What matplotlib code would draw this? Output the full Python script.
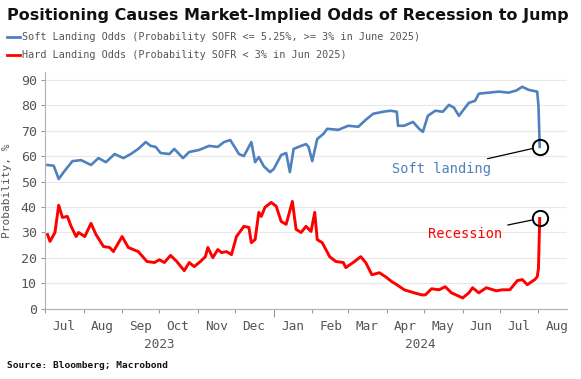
import numpy as np
import pandas as pd
import matplotlib
matplotlib.use("Agg")
import matplotlib.pyplot as plt
import matplotlib.dates as mdates
import matplotlib.transforms as mtransforms
from matplotlib.lines import Line2D

# --- data (probability, %) ---
soft_dates = ["2023-07-03", "2023-07-08", "2023-07-12", "2023-07-16", "2023-07-23", "2023-07-30",
              "2023-08-07", "2023-08-13", "2023-08-19", "2023-08-26", "2023-09-02",
              "2023-09-08", "2023-09-14", "2023-09-20", "2023-09-24", "2023-09-28",
              "2023-10-02", "2023-10-09", "2023-10-13", "2023-10-20", "2023-10-25",
              "2023-11-02", "2023-11-10", "2023-11-17", "2023-11-22", "2023-11-27",
              "2023-11-30", "2023-12-04", "2023-12-08", "2023-12-14", "2023-12-17",
              "2023-12-20", "2023-12-24", "2023-12-29", "2024-01-01", "2024-01-07",
              "2024-01-11", "2024-01-14", "2024-01-17", "2024-01-23", "2024-01-27",
              "2024-01-29", "2024-02-01", "2024-02-05", "2024-02-10", "2024-02-13",
              "2024-02-22", "2024-03-01", "2024-03-09", "2024-03-15", "2024-03-21",
              "2024-03-29", "2024-04-04", "2024-04-09", "2024-04-10", "2024-04-15",
              "2024-04-22", "2024-04-27", "2024-04-30", "2024-05-04", "2024-05-10",
              "2024-05-16", "2024-05-21", "2024-05-25", "2024-05-29", "2024-06-06",
              "2024-06-11", "2024-06-14", "2024-06-22", "2024-06-30", "2024-07-08",
              "2024-07-14", "2024-07-19", "2024-07-24", "2024-07-31", "2024-08-01",
              "2024-08-02"]
soft_vals = [56.5, 56.2, 51.0, 53.7, 58.0, 58.4, 56.5, 59.2, 57.6, 60.8, 59.2,
             60.8, 62.8, 65.5, 64.0, 63.6, 61.2, 60.8, 62.8, 59.2, 61.6,
             62.4, 64.0, 63.6, 65.5, 66.3, 64.0, 60.8, 60.0, 65.5, 57.6,
             59.6, 56.0, 53.7, 54.9, 60.4, 61.2, 53.7, 62.8, 64.0, 64.7,
             63.6, 58.0, 66.7, 68.7, 70.7, 70.3, 71.9, 71.5, 74.2, 76.6,
             77.4, 77.8, 77.4, 71.9, 71.9, 73.4, 70.7, 69.5, 75.8, 77.8,
             77.4, 80.1, 79.0, 75.8, 80.9, 81.7, 84.5, 84.9, 85.3, 84.9,
             85.7, 87.2, 86.0, 85.3, 79.7, 63.6]

hard_dates = ["2023-07-03", "2023-07-05", "2023-07-09", "2023-07-12", "2023-07-15",
              "2023-07-19", "2023-07-22", "2023-07-26", "2023-07-28", "2023-08-02",
              "2023-08-07", "2023-08-11", "2023-08-17", "2023-08-22", "2023-08-25",
              "2023-09-01", "2023-09-06", "2023-09-14", "2023-09-21", "2023-09-27",
              "2023-10-01", "2023-10-05", "2023-10-10", "2023-10-15", "2023-10-21",
              "2023-10-25", "2023-10-29", "2023-11-03", "2023-11-07", "2023-11-09",
              "2023-11-13", "2023-11-17", "2023-11-20", "2023-11-24", "2023-11-28",
              "2023-12-02", "2023-12-05", "2023-12-08", "2023-12-12", "2023-12-14",
              "2023-12-17", "2023-12-20", "2023-12-22", "2023-12-25", "2023-12-30",
              "2024-01-03", "2024-01-07", "2024-01-11", "2024-01-16", "2024-01-19",
              "2024-01-23", "2024-01-27", "2024-01-31", "2024-02-03", "2024-02-05",
              "2024-02-09", "2024-02-15", "2024-02-20", "2024-02-26", "2024-02-28",
              "2024-03-06", "2024-03-11", "2024-03-15", "2024-03-20", "2024-03-26",
              "2024-03-31", "2024-04-05", "2024-04-09", "2024-04-15", "2024-04-23",
              "2024-04-29", "2024-05-02", "2024-05-07", "2024-05-13", "2024-05-18",
              "2024-05-23", "2024-06-01", "2024-06-06", "2024-06-09", "2024-06-14",
              "2024-06-20", "2024-06-28", "2024-07-03", "2024-07-09", "2024-07-15",
              "2024-07-19", "2024-07-23", "2024-07-29", "2024-07-31", "2024-08-01",
              "2024-08-02"]
hard_vals = [29.2, 26.5, 30.0, 40.7, 35.9, 36.3, 32.4, 28.4, 30.0, 28.4,
             33.6, 29.2, 24.5, 24.1, 22.5, 28.4, 24.1, 22.5, 18.6, 18.2,
             19.3, 18.2, 21.0, 18.6, 15.0, 18.2, 16.6, 18.6, 20.5, 24.1,
             20.1, 23.3, 22.1, 22.5, 21.3, 28.4, 30.4, 32.4, 32.0, 26.0,
             27.2, 37.9, 36.3, 39.9, 41.8, 40.3, 34.3, 33.2, 42.2, 31.2,
             30.0, 32.4, 30.4, 37.9, 27.2, 26.0, 20.5, 18.6, 18.2, 16.2,
             18.6, 20.5, 18.2, 13.4, 14.2, 12.6, 10.7, 9.5, 7.5, 6.3,
             5.5, 5.5, 7.9, 7.5, 8.7, 6.3, 4.3, 6.3, 8.3, 6.3,
             8.3, 7.1, 7.5, 7.5, 11.1, 11.5, 9.5, 11.5, 12.6, 16.0,
             35.5]

title = "Positioning Causes Market-Implied Odds of Recession to Jump"
soft_label = "Soft Landing Odds (Probability SOFR <= 5.25%, >= 3% in June 2025)"
hard_label = "Hard Landing Odds (Probability SOFR < 3% in Jun 2025)"
source = "Source: Bloomberg; Macrobond"

BLUE = "#4f81bd"
RED = "#ff0000"
GREY = "#555555"
MONO = "DejaVu Sans Mono"

soft_x = pd.to_datetime(soft_dates)
hard_x = pd.to_datetime(hard_dates)

fig = plt.figure(figsize=(5.81, 3.79), dpi=100)
ax = fig.add_axes([0.0775, 0.185, 0.8985, 0.625])

ax.plot(soft_x, soft_vals, color=BLUE, lw=1.9, solid_joinstyle="round")
ax.plot(hard_x, hard_vals, color=RED, lw=2.1, solid_joinstyle="round")

# circles on the last points + callouts
ax.plot(soft_x[-1], soft_vals[-1], "o", ms=11, mfc="none", mec="black", mew=1.4)
ax.plot(hard_x[-1], hard_vals[-1], "o", ms=11, mfc="none", mec="black", mew=1.4)
ax.annotate("Soft landing", xy=(soft_x[-1], soft_vals[-1]), xytext=(-35, -16),
            textcoords="offset points", ha="right", va="center", color=BLUE,
            fontsize=9.8, family=MONO,
            arrowprops=dict(arrowstyle="-", color="black", lw=0.9, shrinkA=2, shrinkB=6))
ax.annotate("Recession", xy=(hard_x[-1], hard_vals[-1]), xytext=(-27, -11),
            textcoords="offset points", ha="right", va="center", color=RED,
            fontsize=9.8, family=MONO,
            arrowprops=dict(arrowstyle="-", color="black", lw=0.9, shrinkA=2, shrinkB=6))

ax.set_xlim(pd.Timestamp("2023-07-01"), pd.Timestamp("2024-08-24"))
ax.set_ylim(0, 93)
ax.set_yticks(np.arange(0, 91, 10))
ax.grid(axis="y", color="#e8e8e8", lw=0.8)
ax.set_axisbelow(True)

for s in ["top", "right"]:
    ax.spines[s].set_visible(False)
for s in ["left", "bottom"]:
    ax.spines[s].set_color("#b0b0b0")
    ax.spines[s].set_linewidth(0.8)

ax.xaxis.set_major_locator(mdates.MonthLocator())
ax.xaxis.set_major_formatter(plt.NullFormatter())
ax.xaxis.set_minor_locator(mdates.MonthLocator(bymonthday=16))
ax.xaxis.set_minor_formatter(mdates.DateFormatter("%b"))
ax.tick_params(axis="x", which="major", length=3, color="#999999", width=0.8)
ax.tick_params(axis="x", which="minor", length=0, pad=8, labelsize=9.2, labelcolor=GREY)
ax.tick_params(axis="y", length=3, color="#999999", width=0.8, labelsize=9.5,
               labelcolor=GREY, pad=3)
for lab in ax.get_xticklabels(minor=True) + ax.get_yticklabels():
    lab.set_family(MONO)
for t, loc in zip(ax.xaxis.get_major_ticks(), ax.xaxis.get_majorticklocs()):
    if mdates.num2date(loc).month == 1:
        t.tick1line.set_markersize(6)

ax.set_ylabel("Probability, %", family=MONO, fontsize=8, color=GREY, labelpad=6)

# year labels under the month labels
trans = mtransforms.blended_transform_factory(ax.transData, ax.transAxes)
ax.text(pd.Timestamp("2023-10-01"), -0.152, "2023", transform=trans, ha="center",
        va="center", family=MONO, fontsize=9.2, color=GREY)
ax.text(pd.Timestamp("2024-04-28"), -0.152, "2024", transform=trans, ha="center",
        va="center", family=MONO, fontsize=9.2, color=GREY)

# title, legend, source
fig.text(0.012, 0.96, title, ha="left", va="center", fontsize=11.55,
         fontweight="bold", color="#111111")
for yy, col, lab in [(0.902, BLUE, soft_label), (0.855, RED, hard_label)]:
    fig.add_artist(Line2D([0.012, 0.034], [yy, yy], color=col, lw=2,
                          transform=fig.transFigure))
    fig.text(0.038, yy, lab, ha="left", va="center", family=MONO,
             fontsize=7.3, color=GREY)
fig.text(0.012, 0.035, source, ha="left", va="center", family=MONO,
         fontsize=6.8, fontweight="bold", color="#111111")

fig.savefig("out.png", dpi=100)
